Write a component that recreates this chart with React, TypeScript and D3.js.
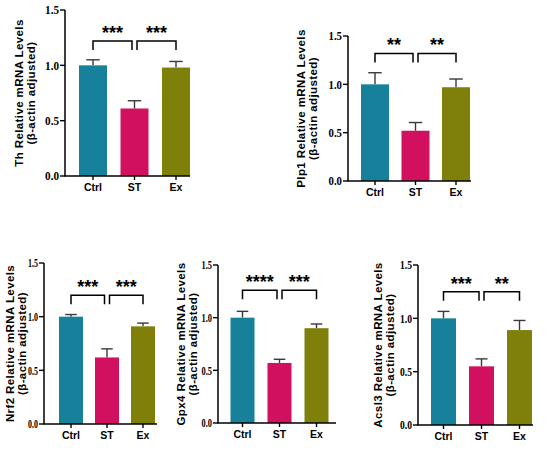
import React from "react";
import * as d3 from "d3";

const groups = ["Ctrl", "ST", "Ex"];
const colors = ["#17809a", "#d1105f", "#7f800a"];
const yTicks = [0, 0.5, 1.0, 1.5];

const genes = ["Th", "Plp1", "Nrf2", "Gpx4", "Acsl3"];

const thMean = [1.0, 0.61, 0.98];
const thSem = [0.05, 0.07, 0.055];
const plp1Mean = [1.0, 0.52, 0.97];
const plp1Sem = [0.12, 0.085, 0.085];
const nrf2Mean = [1.0, 0.62, 0.91];
const nrf2Sem = [0.02, 0.08, 0.03];
const gpx4Mean = [1.0, 0.57, 0.9];
const gpx4Sem = [0.06, 0.035, 0.04];
const acsl3Mean = [1.0, 0.55, 0.89];
const acsl3Sem = [0.065, 0.07, 0.09];

const sigLabels = [
  ["***", "***"],
  ["**", "**"],
  ["***", "***"],
  ["****", "***"],
  ["***", "**"],
];
// height of the bracket top, in data units
const sigLevel = [1.22, 1.32, 1.2, 1.26, 1.25];

const means = [thMean, plp1Mean, nrf2Mean, gpx4Mean, acsl3Mean];
const sems = [thSem, plp1Sem, nrf2Sem, gpx4Sem, acsl3Sem];

// panel placement: y-axis x, top (1.5), bottom (0), first bar center, step, bar width,
// x-axis end, title line x's, horizontal squeeze of tick labels
const layout = [
  { ax: 65, top: 10, bottom: 176, c0: 93, step: 41.5, bw: 28, axEnd: 190, t1: 19, t2: 30.5, sx: 0.93 },
  { ax: 348, top: 36, bottom: 181, c0: 375, step: 40.5, bw: 28, axEnd: 471, t1: 301, t2: 313, sx: 0.9 },
  { ax: 44, top: 263, bottom: 424, c0: 71, step: 36, bw: 24, axEnd: 157, t1: 9.5, t2: 21.5, sx: 0.66 },
  { ax: 218, top: 265, bottom: 423, c0: 242.5, step: 37, bw: 24, axEnd: 336, t1: 181, t2: 193, sx: 0.7 },
  { ax: 418, top: 265, bottom: 425, c0: 443.5, step: 38, bw: 25, axEnd: 533, t1: 378, t2: 390, sx: 0.8 },
];

const sans = "'Liberation Sans', Arial, sans-serif";
const serif = "'Liberation Serif', 'Times New Roman', serif";

function Panel({ i }: { i: number }) {
  const L = layout[i];
  const mean = means[i];
  const sem = sems[i];
  const pad = 1 - L.bw / L.step;
  const x = d3
    .scaleBand<string>()
    .domain(groups)
    .range([L.c0 - L.bw / 2, L.c0 + 2 * L.step + L.bw / 2])
    .paddingInner(pad)
    .paddingOuter(0);
  const y = d3.scaleLinear().domain([0, 1.5]).range([L.bottom, L.top]);
  const cx = (g: string) => (x(g) as number) + x.bandwidth() / 2;
  const cap = x.bandwidth() * 0.24;
  const midY = (L.top + L.bottom) / 2;
  const bt = y(sigLevel[i]);
  const bb = bt + 9;
  const brackets = [
    [cx(groups[0]), cx(groups[1]) - 2.5],
    [cx(groups[1]) + 2.5, cx(groups[2])],
  ];

  return (
    <g>
      {groups.map((g, k) => (
        <g key={g}>
          <line
            x1={cx(g)}
            x2={cx(g)}
            y1={y(mean[k])}
            y2={y(mean[k] + sem[k])}
            stroke="#3a3a3a"
            strokeWidth={1.4}
          />
          <line
            x1={cx(g) - cap}
            x2={cx(g) + cap}
            y1={y(mean[k] + sem[k])}
            y2={y(mean[k] + sem[k])}
            stroke="#3a3a3a"
            strokeWidth={1.4}
          />
          <rect
            x={x(g)}
            y={y(mean[k])}
            width={x.bandwidth()}
            height={y(0) - y(mean[k])}
            fill={colors[k]}
          />
          <line
            x1={cx(g)}
            x2={cx(g)}
            y1={L.bottom}
            y2={L.bottom + 4}
            stroke="#000"
            strokeWidth={1.4}
          />
          <text
            x={cx(g)}
            y={L.bottom + 15}
            textAnchor="middle"
            fontFamily={sans}
            fontWeight="bold"
            fontSize={10.5}
          >
            {g}
          </text>
        </g>
      ))}
      <line x1={L.ax} x2={L.ax} y1={L.top} y2={L.bottom} stroke="#000" strokeWidth={1.5} />
      <line x1={L.ax - 0.75} x2={L.axEnd} y1={L.bottom} y2={L.bottom} stroke="#000" strokeWidth={1.5} />
      {yTicks.map((t) => (
        <g key={t}>
          <line x1={L.ax - 5} x2={L.ax} y1={y(t)} y2={y(t)} stroke="#000" strokeWidth={1.4} />
          <text
            transform={`translate(${L.ax - 6},${y(t)}) scale(${L.sx},1)`}
            dy="0.35em"
            textAnchor="end"
            fontFamily={serif}
            fontWeight="bold"
            fontSize={12}
          >
            {d3.format(".1f")(t)}
          </text>
        </g>
      ))}
      {brackets.map(([a, b], k) => (
        <g key={k}>
          <path
            d={`M${a},${bb}V${bt}H${b}V${bb}`}
            fill="none"
            stroke="#000"
            strokeWidth={1.5}
          />
          <text
            x={(a + b) / 2}
            y={bt - 2}
            textAnchor="middle"
            fontFamily={sans}
            fontWeight="bold"
            fontSize={18}
          >
            {sigLabels[i][k]}
          </text>
        </g>
      ))}
      <text
        transform={`translate(${L.t1},${midY}) rotate(-90)`}
        textAnchor="middle"
        dy="0.35em"
        fontFamily={sans}
        fontWeight="bold"
        fontSize={11.5}
        letterSpacing={0.4}
      >
        {genes[i]} Relative mRNA Levels
      </text>
      <text
        transform={`translate(${L.t2},${midY}) rotate(-90)`}
        textAnchor="middle"
        dy="0.35em"
        fontFamily={sans}
        fontWeight="bold"
        fontSize={11.5}
        letterSpacing={0.4}
      >
        (β-actin adjusted)
      </text>
    </g>
  );
}

export default function App() {
  return (
    <svg
      width={550}
      height={450}
      style={{ position: "absolute", left: 0, top: 0, background: "#fff" }}
    >
      {genes.map((g, i) => (
        <Panel key={g} i={i} />
      ))}
    </svg>
  );
}
